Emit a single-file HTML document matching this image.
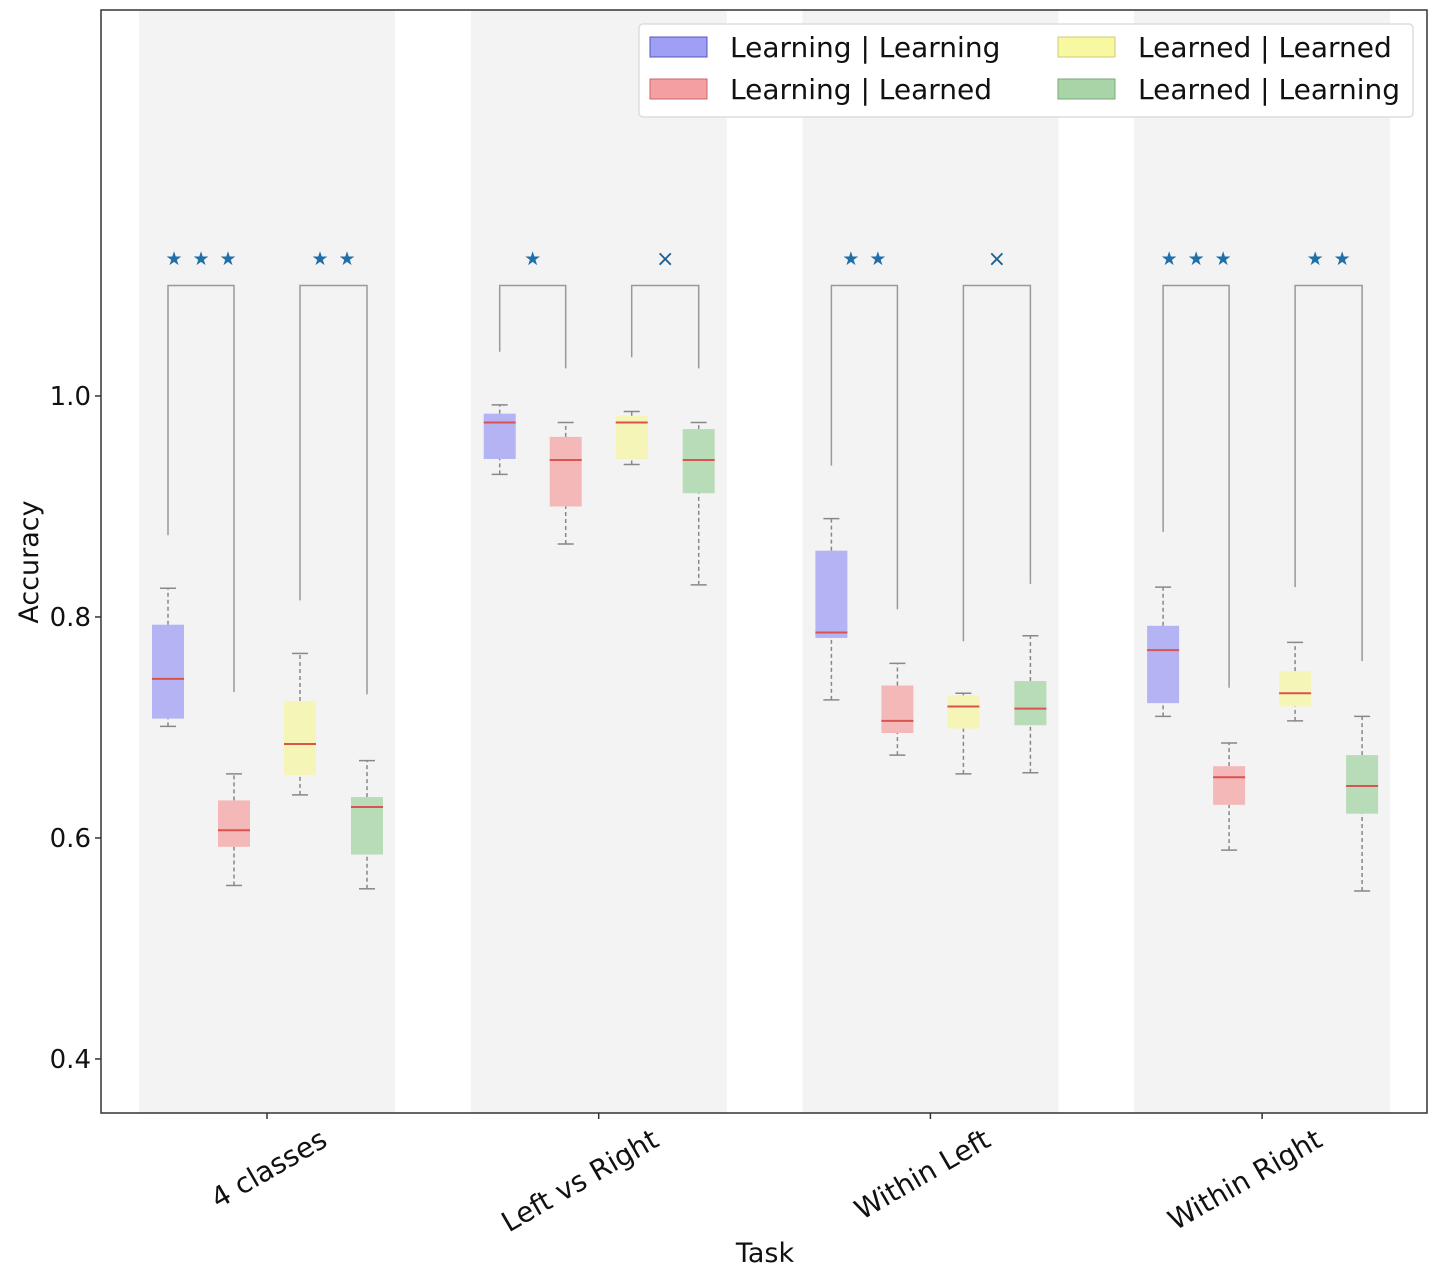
<!DOCTYPE html>
<html><head><meta charset="utf-8"><style>
body{margin:0;background:#fff;}
svg text{font-family:"DejaVu Sans","Liberation Sans",sans-serif;}
</style></head><body>
<svg id="chart" width="1441" height="1275" xmlns="http://www.w3.org/2000/svg"></svg>
<script>
const categories=["4 classes","Left vs Right","Within Left","Within Right"];
const seriesNames=["Learning | Learning","Learning | Learned","Learned | Learned","Learned | Learning"];
const yTicks=[0.4,0.6,0.8,1.0];
// [lo, q1, med, q3, hi] per category
const s1=[[0.701,0.708,0.744,0.793,0.826],[0.929,0.943,0.976,0.984,0.992],[0.725,0.781,0.786,0.860,0.889],[0.710,0.722,0.770,0.792,0.827]];
const s2=[[0.557,0.592,0.607,0.634,0.658],[0.866,0.900,0.942,0.963,0.976],[0.675,0.695,0.706,0.738,0.758],[0.589,0.630,0.655,0.665,0.686]];
const s3=[[0.639,0.657,0.685,0.724,0.767],[0.938,0.943,0.976,0.982,0.986],[0.658,0.699,0.719,0.729,0.731],[0.706,0.719,0.731,0.751,0.777]];
const s4=[[0.554,0.585,0.628,0.637,0.670],[0.829,0.912,0.942,0.970,0.976],[0.659,0.702,0.717,0.742,0.783],[0.552,0.622,0.647,0.675,0.710]];
// bracket leg bottoms [left,right] for pairs (s1-s2),(s3-s4)
const bracketA=[[0.874,0.732],[1.04,1.025],[0.937,0.807],[0.877,0.736]];
const bracketB=[[0.815,0.73],[1.035,1.025],[0.778,0.83],[0.827,0.76]];
const sigA=["***","*","**","***"];
const sigB=["**","x","x","**"];
const bracketTop=1.1, sigY=1.125;

const NS="http://www.w3.org/2000/svg",svg=document.getElementById('chart');
const L=101,R=1427,T=10,B=1113,yMin=0.3511,yMax=1.3493;
const y=v=>B-(v-yMin)/(yMax-yMin)*(B-T);
const x=i=>267+i*331.7;
const offs=[-99,-33,33,100];
const fills=["#b4b4f5","#f5b8b8","#f5f5b8","#b8dcb8"];
function mk(tag,a,p){const e=document.createElementNS(NS,tag);for(const k in a)e.setAttribute(k,a[k]);(p||svg).appendChild(e);return e;}
categories.forEach((c,i)=>{const r=mk('rect',{x:x(i)-128,y:T,width:256,height:B-T,fill:'#f3f3f3'});
});
[s1,s2,s3,s4].forEach((s,si)=>{s.forEach((d,i)=>{
 const cx=x(i)+offs[si];const g=mk('g',{});
 
 mk('line',{x1:cx,x2:cx,y1:y(d[0]),y2:y(d[1]),stroke:'#888','stroke-dasharray':'4,3','stroke-width':1.5},g);
 mk('line',{x1:cx,x2:cx,y1:y(d[3]),y2:y(d[4]),stroke:'#888','stroke-dasharray':'4,3','stroke-width':1.5},g);
 mk('line',{x1:cx-8,x2:cx+8,y1:y(d[0]),y2:y(d[0]),stroke:'#888','stroke-width':1.5},g);
 mk('line',{x1:cx-8,x2:cx+8,y1:y(d[4]),y2:y(d[4]),stroke:'#888','stroke-width':1.5},g);
 mk('rect',{x:cx-16,y:y(d[3]),width:32,height:y(d[1])-y(d[3]),fill:fills[si]},g);
 mk('line',{x1:cx-16,x2:cx+16,y1:y(d[2]),y2:y(d[2]),stroke:'#d9534f','stroke-width':2},g);
});});
function bracket(i,o1,o2,legs,sig){
 const x1=x(i)+o1,x2=x(i)+o2,g=mk('g',{});
 
 mk('path',{d:`M${x1},${y(legs[0])}V${y(bracketTop)}H${x2}V${y(legs[1])}`,fill:'none',stroke:'#999','stroke-width':1.5},g);
 const cx=(x1+x2)/2;
 if(sig==='x'){const t=mk('text',{x:cx,y:y(sigY)+8,'text-anchor':'middle','font-size':22,fill:'#1f5f8f'},g);t.textContent='×';}
 else{const n=sig.length;for(let k=0;k<n;k++){const t=mk('text',{x:cx+(k-(n-1)/2)*27,y:y(sigY)+7,'text-anchor':'middle','font-size':19,fill:'#1f6fa8'},g);t.textContent='★';}}
}
categories.forEach((c,i)=>{bracket(i,offs[0],offs[1],bracketA[i],sigA[i]);bracket(i,offs[2],offs[3],bracketB[i],sigB[i]);});
const fr=mk('rect',{x:L,y:T,width:R-L,height:B-T,fill:'none',stroke:'#333','stroke-width':1.5});

yTicks.forEach(v=>{mk('line',{x1:L-6,x2:L,y1:y(v),y2:y(v),stroke:'#333','stroke-width':1.5});
 const t=mk('text',{x:L-10,y:y(v)+9,'text-anchor':'end','font-size':26,fill:'#111'});t.textContent=v.toFixed(1);
 });
categories.forEach((c,i)=>{mk('line',{x1:x(i),x2:x(i),y1:B,y2:B+6,stroke:'#333','stroke-width':1.5});
 const ax=x(i)+62,ay=B+32;
 const t=mk('text',{x:ax,y:ay,'text-anchor':'end','font-size':28,fill:'#111',transform:`rotate(-30 ${ax} ${ay})`});t.textContent=c;
 });
const xt=mk('text',{x:765,y:1262,'text-anchor':'middle','font-size':27,fill:'#111'});xt.textContent='Task';

const yt=mk('text',{x:38,y:562,'text-anchor':'middle','font-size':27,fill:'#111',transform:'rotate(-90 38 562)'});yt.textContent='Accuracy';

const lg=mk('g',{});
mk('rect',{x:639,y:24,width:774,height:93,rx:4,fill:'#fff',stroke:'#ddd','stroke-width':1.5},lg);
const lf=["#9f9ff5","#f5a0a0","#f8f8a0","#a8d4a8"],ls=["#5555bb","#cc6666","#cccc77","#77aa77"];
const lpos=[[650,47],[650,89],[1058,47],[1058,89]];
[0,1,2,3].forEach(k=>{const [lx,ly]=lpos[k];const e=mk('g',{},lg);
 
 mk('rect',{x:lx,y:ly-10,width:57,height:20,fill:lf[k],stroke:ls[k],'stroke-width':1},e);
 const t=mk('text',{x:lx+80,y:ly+10,'font-size':28,fill:'#111'},e);t.textContent=seriesNames[k];});
</script>
</body></html>
